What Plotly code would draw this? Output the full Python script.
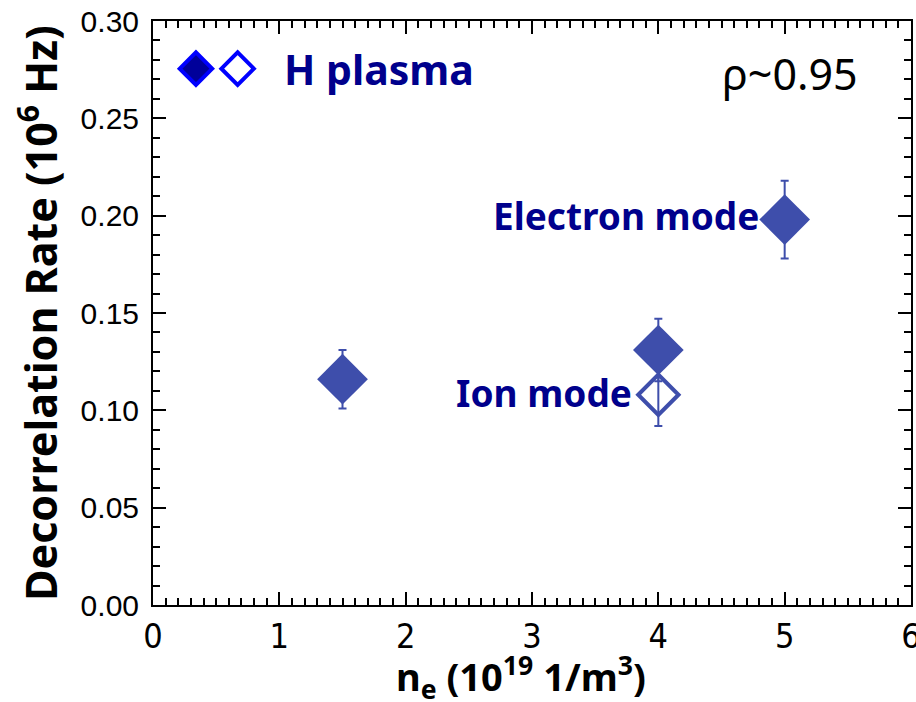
import plotly.graph_objects as go

# Data
ne_filled = [1.5, 4.0, 5.0]
rate_filled = [0.116, 0.131, 0.198]
err_filled = [0.015, 0.016, 0.020]

ne_open = [4.0]
rate_open = [0.108]
err_open = [0.016]

legend_x = [0.34, 0.67]
legend_y = [0.2755, 0.2755]

x_ticks = [0, 1, 2, 3, 4, 5, 6]
y_ticks = [0.00, 0.05, 0.10, 0.15, 0.20, 0.25, 0.30]

mark_col = "#3E4EAB"
navy = "#00008C"

fig = go.Figure()

fig.add_trace(go.Scatter(
    x=ne_open, y=rate_open, mode="markers",
    marker=dict(symbol="diamond-open", size=31, color=mark_col, line=dict(width=4, color=mark_col)),
    error_y=dict(type="data", array=err_open, color=mark_col, thickness=2, width=4),
    showlegend=False, hoverinfo="skip"))

fig.add_trace(go.Scatter(
    x=ne_filled, y=rate_filled, mode="markers",
    marker=dict(symbol="diamond", size=39, color=mark_col, line=dict(width=0)),
    error_y=dict(type="data", array=err_filled, color=mark_col, thickness=2, width=4),
    showlegend=False, hoverinfo="skip"))

# legend-like symbols
fig.add_trace(go.Scatter(
    x=[legend_x[0]], y=[legend_y[0]], mode="markers",
    marker=dict(symbol="diamond", size=25, color="#00009A", line=dict(width=4, color="#0000FF")),
    showlegend=False, hoverinfo="skip"))
fig.add_trace(go.Scatter(
    x=[legend_x[1]], y=[legend_y[1]], mode="markers",
    marker=dict(symbol="diamond", size=25, color="white", line=dict(width=4, color="#0000FF")),
    showlegend=False, hoverinfo="skip"))

tf = "Noto Sans"
fig.add_annotation(x=legend_x[1], y=legend_y[1], xref="x", yref="y", text="<b>H plasma</b>",
                   xanchor="left", yanchor="middle", xshift=44, showarrow=False,
                   font=dict(family=tf, size=41, color=navy))
fig.add_annotation(x=5.6, y=0.273, xref="x", yref="y", text="ρ~0.95",
                   xanchor="right", yanchor="middle", showarrow=False,
                   font=dict(family=tf, size=43, color="black"))
fig.add_annotation(x=ne_filled[2], y=rate_filled[2], xref="x", yref="y", text="<b>Electron mode</b>",
                   xanchor="right", yanchor="middle", xshift=-24, yshift=4, showarrow=False,
                   font=dict(family=tf, size=37, color=navy))
fig.add_annotation(x=ne_open[0], y=rate_open[0], xref="x", yref="y", text="<b>Ion mode</b>",
                   xanchor="right", yanchor="middle", xshift=-24, yshift=2, showarrow=False,
                   font=dict(family=tf, size=37, color=navy))

# axis titles
fig.add_annotation(x=0, y=0.5, xref="paper", yref="paper", xshift=-115, textangle=-90,
                   text="<b>Decorrelation Rate (10<sup>6</sup> Hz)</b>",
                   xanchor="center", yanchor="middle", showarrow=False,
                   font=dict(family=tf, size=43, color="black"))
fig.add_annotation(x=0.485, y=0, xref="paper", yref="paper", yshift=-72,
                   text="<b>n<sub>e</sub> (10<sup>19</sup> 1/m<sup>3</sup>)</b>",
                   xanchor="center", yanchor="middle", showarrow=False,
                   font=dict(family=tf, size=38, color="black"))

axis_common = dict(showline=True, linecolor="black", linewidth=2, mirror="allticks",
                   ticks="inside", ticklen=13, tickwidth=1.5, tickcolor="black",
                   showgrid=False, zeroline=False, automargin=False)

fig.update_xaxes(range=[0, 6], tickvals=x_ticks, ticktext=[str(v) for v in x_ticks],
                 tickfont=dict(family="DejaVu Sans Condensed", size=34, color="black"),
                 ticklabeloverflow="allow", ticklabelstandoff=0,
                 minor=dict(dtick=0.1, ticklen=7, ticks="inside", tickwidth=1.5, tickcolor="black"),
                 **axis_common)
fig.update_yaxes(range=[0, 0.30], tickvals=y_ticks, ticktext=[f"{v:.2f}" for v in y_ticks],
                 tickfont=dict(family="Liberation Sans", size=30, color="black"),
                 ticklabelstandoff=6,
                 minor=dict(dtick=0.01, ticklen=7, ticks="inside", tickwidth=1.5, tickcolor="black"),
                 **axis_common)

fig.update_layout(width=916, height=702, margin=dict(l=153, r=5, t=21, b=97),
                  plot_bgcolor="white", paper_bgcolor="white")

fig.write_html("out.html", config={"displayModeBar": False},
               post_script="document.body.style.margin='0';")
